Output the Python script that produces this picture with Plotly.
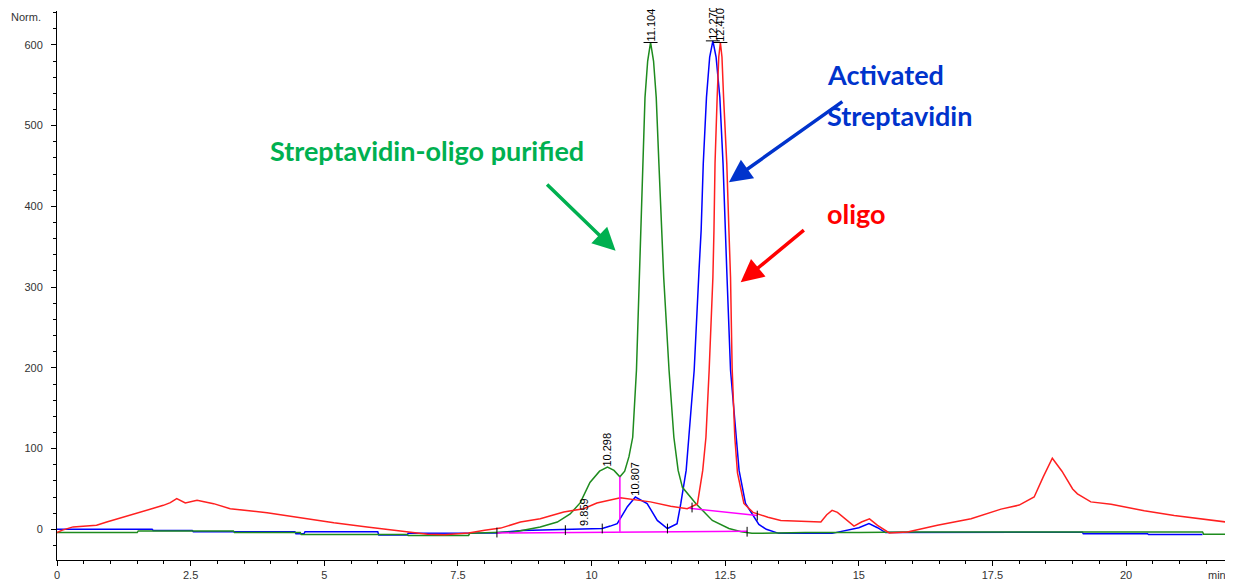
import plotly.graph_objects as go

# ---------------- data ----------------
red_t = [0, 0.1, 0.3, 0.49, 0.74, 0.93, 1.24, 1.5, 1.7, 1.99, 2.12, 2.24, 2.4, 2.62, 2.93, 3.24, 3.93,
         4.55, 5.18, 5.8, 6.43, 6.93, 7.25, 7.7, 8.0, 8.3, 8.67, 9.04, 9.48, 9.85, 10.1, 10.34, 10.54,
         11.1, 11.48, 11.79, 11.98, 12.08, 12.14, 12.2, 12.27, 12.29, 12.31, 12.35, 12.38, 12.41, 12.44,
         12.47, 12.53, 12.57, 12.6, 12.63, 12.68, 12.73, 12.85, 13.02, 13.3, 13.54, 14.0, 14.29, 14.4,
         14.5, 14.6, 14.91, 15.05, 15.2, 15.35, 15.57, 15.91, 16.47, 17.1, 17.66, 18.0, 18.28, 18.45,
         18.62, 18.8, 19.0, 19.09, 19.34, 19.72, 20.34, 20.9, 21.5, 22.0]
red_v = [-4, -1, 3, 3.7, 5, 9, 15, 19.4, 23.5, 29.7, 33, 38, 32.6, 36, 31.8, 25.6, 20.5,
         14, 8, 3, -2.5, -6.2, -6.6, -4.5, -1.2, 1.5, 9, 13, 21.5, 25.6, 32.6, 36, 39,
         34, 28.6, 25.6, 31.5, 73, 114, 197, 312, 370, 453, 535, 585, 603, 585,
         535, 453, 370, 312, 200, 114, 70, 32, 21, 15, 11, 10, 9, 18,
         23.5, 21, 4, 9, 13, 5, -4.5, -3.3, 5, 13, 25, 30, 40, 65,
         88, 72, 50, 44, 34, 31, 23, 17, 12, 8]

blue_t = [0, 1.78, 1.8, 2.53, 2.55, 4.45, 4.47, 4.62, 4.64, 6.0, 6.02, 6.55, 6.57, 7.5, 8.2, 8.7,
          9.5, 10.0, 10.2, 10.35, 10.48, 10.67, 10.82, 11.04, 11.23, 11.42, 11.6, 11.67, 11.77, 11.82,
          11.92, 12.01, 12.05, 12.09, 12.15, 12.21, 12.27, 12.33, 12.4, 12.46, 12.5, 12.53, 12.6, 12.7,
          12.76, 12.88, 13.13, 13.27, 13.5, 14.5, 15.0, 15.19, 15.35, 15.5, 16.0, 17.0, 18.0, 19.18,
          19.2, 20.4, 20.42, 21.43]
blue_v = [0, 0, -1.5, -1.5, -3, -3, -5.5, -5.5, -3, -3, -7, -7, -5, -5, -4.5, -1.5,
          0, 0.5, 1, 4, 7, 28, 40, 32, 11, 1, 7, 32, 73, 114,
          197, 320, 370, 453, 535, 585, 605, 585, 535, 453, 370, 320, 197, 114,
          73, 32, 6, 0, -5, -5, 2, 7, 2, -4, -4, -3.5, -3.5, -3.5,
          -5.5, -5.5, -6.5, -6.5]

green_t = [0, 1.5, 1.52, 3.3, 3.32, 4.55, 4.57, 6.55, 6.57, 7.7, 7.72, 8.55, 9.04, 9.36, 9.6, 9.79,
           9.97, 10.15, 10.298, 10.42, 10.53, 10.62, 10.7, 10.77, 10.84, 10.9, 10.96, 11.0, 11.05,
           11.104, 11.16, 11.21, 11.26, 11.31, 11.35, 11.45, 11.54, 11.62, 11.7, 11.95, 12.26, 12.57,
           12.8, 13.0, 14.0, 15.0, 16.0, 21.43, 21.45, 22.0]
green_v = [-4, -4, -2, -2, -4, -4, -6.5, -6.5, -7.5, -7.5, -5, -3.3, 3, 9, 19, 33,
           58, 72, 77, 73, 65, 72, 90, 114, 197, 320, 453, 535, 580,
           603, 580, 535, 453, 370, 312, 197, 114, 73, 52, 32, 11, 1,
           -3, -5, -4, -4, -3.3, -3.3, -6, -6]

# integration baselines (magenta)
base_main_t = [8.23, 12.91]
base_main_v = [-4.5, -2.5]
drop_t = [10.53, 10.53]
drop_v = [-3, 65]
red_base_t = [11.83, 13.1]
red_base_v = [26, 17]

# integration event ticks
event_t = [8.23, 9.51, 10.2, 11.42, 11.88, 12.91, 13.1]
event_v = [-4, -1, 1, 1, 27, -3, 17]

# peak labels
peak_times = [9.859, 10.298, 10.807, 11.104, 12.270, 12.410]
peak_heights = [3, 77, 40, 603, 605, 603]

# ---------------- figure ----------------
fig = go.Figure()
fig.add_trace(go.Scatter(x=blue_t, y=blue_v, mode="lines", line=dict(color="#0000FF", width=1.5),
                         showlegend=False))
fig.add_trace(go.Scatter(x=green_t, y=green_v, mode="lines", line=dict(color="#1E8B1E", width=1.5),
                         showlegend=False))
fig.add_trace(go.Scatter(x=red_t, y=red_v, mode="lines", line=dict(color="#FF2020", width=1.5),
                         showlegend=False))
for bt, bv in [(base_main_t, base_main_v), (drop_t, drop_v), (red_base_t, red_base_v)]:
    fig.add_trace(go.Scatter(x=bt, y=bv, mode="lines", line=dict(color="#FF00FF", width=1.5),
                             showlegend=False))
fig.add_trace(go.Scatter(x=event_t, y=event_v, mode="markers",
                         marker=dict(symbol="line-ns", size=7, line=dict(color="black", width=1)),
                         showlegend=False))
fig.add_trace(go.Scatter(x=peak_times[3:], y=peak_heights[3:], mode="markers",
                         marker=dict(symbol="line-ew", size=10, line=dict(color="black", width=1)),
                         showlegend=False))

for t, h in zip(peak_times, peak_heights):
    fig.add_annotation(x=t, y=h, text=f"{t:.3f}", textangle=-90, showarrow=False,
                       xanchor="center", yanchor="bottom", yshift=-1,
                       font=dict(family="Liberation Sans, Arial", size=11, color="black"))

# callouts
fig.add_annotation(x=6.93, y=469, text="<b>Streptavidin-oligo purified</b>", showarrow=False,
                   font=dict(family="Lato", size=27, color="#00B050"))
fig.add_annotation(x=14.36, y=563, text="<b>Activated</b>", showarrow=False, xanchor="left",
                   font=dict(family="Lato", size=27, color="#0033CC"))
fig.add_annotation(x=14.36, y=512, text="<b>Streptavidin</b>", showarrow=False, xanchor="left",
                   font=dict(family="Lato", size=27, color="#0033CC"))
fig.add_annotation(x=14.36, y=391, text="<b>oligo</b>", showarrow=False, xanchor="left",
                   font=dict(family="Lato", size=27, color="#FF0000"))

for (x1, y1, x0, y0, c) in [(10.45, 345, 9.14, 429, "#00B050"),
                            (12.57, 430, 14.72, 531, "#0033CC"),
                            (12.79, 306, 14.0, 372, "#FF0000")]:
    fig.add_annotation(x=x1, y=y1, ax=x0, ay=y0, xref="x", yref="y", axref="x", ayref="y",
                       text="", showarrow=True, arrowhead=2, arrowsize=1.3, arrowwidth=3.5,
                       arrowcolor=c)

fig.add_annotation(xref="paper", yref="paper", x=0, y=1.0, text="Norm.", showarrow=False,
                   xanchor="right", yanchor="middle", xshift=-14, yshift=-6,
                   font=dict(family="Liberation Sans, Arial", size=11, color="#333333"))
fig.add_annotation(xref="paper", yref="paper", x=0.977, y=0, text="min", showarrow=False,
                   xanchor="left", yanchor="top", yshift=-7,
                   font=dict(family="Liberation Sans, Arial", size=11, color="#333333"))

axis_font = dict(family="Liberation Sans, Arial", size=11, color="#333333")
fig.update_xaxes(range=[0, 22], showgrid=False, zeroline=False, showline=True, linecolor="black",
                 linewidth=1, ticks="outside", ticklen=5, tickcolor="black",
                 tickvals=[0, 2.5, 5, 7.5, 10, 12.5, 15, 17.5, 20],
                 ticktext=["0", "2.5", "5", "7.5", "10", "12.5", "15", "17.5", "20"],
                 minor=dict(dtick=0.5, ticks="outside", ticklen=3, tickcolor="black"),
                 tickfont=axis_font, ticklabelstandoff=0)
fig.update_yaxes(range=[-38, 642], showgrid=False, zeroline=False, showline=True, linecolor="black",
                 linewidth=1, ticks="outside", ticklen=5, tickcolor="black", dtick=100, tick0=0,
                 minor=dict(dtick=20, tick0=0, ticks="outside", ticklen=3, tickcolor="black"),
                 tickfont=axis_font, ticklabelstandoff=6)
# the page body adds an 8 px offset, so margins are reduced by that amount
fig.update_layout(width=1233, height=581, margin=dict(l=49, r=8, t=3, b=29),
                  paper_bgcolor="white", plot_bgcolor="white", showlegend=False)

fig.write_html("out.html")
